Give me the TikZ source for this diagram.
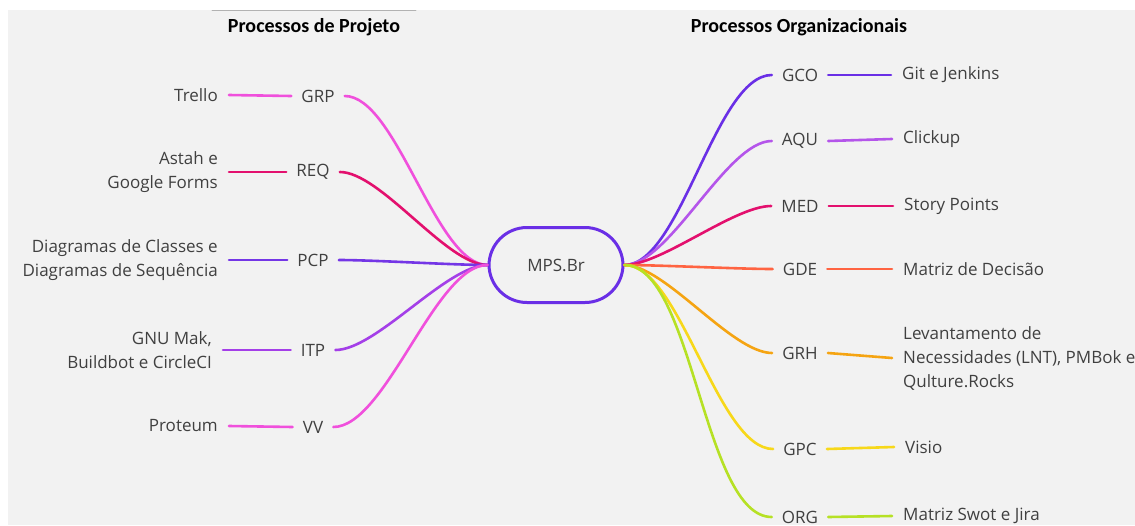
\documentclass[tikz,border=0pt]{standalone}
\usepackage{fontspec}
\setmainfont{Open Sans}
\newfontfamily\headfont{Carlito}
\usepackage{tikz}
\usetikzlibrary{positioning,calc}
\usepackage{xcolor}
\definecolor{bggray}{HTML}{F2F2F2}
\definecolor{txtgray}{HTML}{404040}
\definecolor{hubviolet}{HTML}{6A2FE6}
\definecolor{pinkline}{HTML}{F050DC}
\definecolor{crimson}{HTML}{E3106E}
\definecolor{blueviolet}{HTML}{7436E6}
\definecolor{violet}{HTML}{A43FE8}
\definecolor{lilac}{HTML}{B455EA}
\definecolor{tomato}{HTML}{FF6442}
\definecolor{amber}{HTML}{F5A412}
\definecolor{sun}{HTML}{F7D81A}
\definecolor{lime}{HTML}{B6E125}

\begin{document}
\begin{tikzpicture}[x=1pt, y=-1pt, line cap=round,
  every node/.style={text=txtgray, font=\fontsize{17}{24}\selectfont},
  hub/.style={draw=hubviolet, line width=3pt, fill=bggray, rounded corners=38pt, minimum width=134pt, minimum height=75pt},
  cat/.style={inner xsep=10pt},
  tool/.style={inner xsep=11pt},
  title/.style={font=\headfont\bfseries\fontsize{20}{22}\selectfont, text=black},
  branch/.style={line width=2.6pt, looseness=0.6}]
  % canvas
  \fill[white] (0,0) rectangle (1135,525);
  \fill[bggray] (8,10) rectangle (1135,525);
  \draw[gray!60, line width=0.8pt] (212,10) -- (416,10);
  \useasboundingbox (0,0) rectangle (1135,525);

  \node[title] (tproj) at (314,27) {Processos de Projeto};
  \node[title] (torg) at (799,27) {Processos Organizacionais};

  \node[hub] (mps) at (556,265) {MPS.Br};

  % Processos de Projeto
  \node[cat] (grp) at (318,96) {GRP};
  \node[cat] (req) at (313,172) {REQ};
  \node[cat] (pcp) at (313,260) {PCP};
  \node[cat] (itp) at (313,350) {ITP};
  \node[cat] (vv) at (313,427) {VV};
  \node[tool, anchor=east] (trello) at (229,95) {Trello};
  \node[tool, anchor=east, align=right] (astah) at (229,172) {Astah e\\Google Forms};
  \node[tool, anchor=east, align=right] (diag) at (229,260) {Diagramas de Classes e\\Diagramas de Sequência};
  \node[tool, anchor=east, align=right] (gnu) at (223,350) {GNU Mak,\\Buildbot e CircleCI};
  \node[tool, anchor=east] (proteum) at (229,426) {Proteum};

  \draw[branch, pinkline] (mps.west) to[out=180, in=0] (grp.east);
  \draw[branch, crimson] (mps.west) to[out=180, in=0] (req.east);
  \draw[branch, blueviolet] (mps.west) to[out=180, in=0] (pcp.east);
  \draw[branch, violet] (mps.west) to[out=180, in=0] (itp.east);
  \draw[branch, pinkline] (mps.west) to[out=180, in=0] (vv.east);
  \draw[branch, pinkline] (grp.west) -- (trello.east);
  \draw[branch, crimson] (req.west) -- (astah.east);
  \draw[branch, blueviolet] (pcp.west) -- (diag.east);
  \draw[branch, violet] (itp.west) -- (gnu.east);
  \draw[branch, pinkline] (vv.west) -- (proteum.east);

  % Processos Organizacionais
  \node[cat] (gco) at (800,75) {GCO};
  \node[cat] (aqu) at (800,141) {AQU};
  \node[cat] (med) at (800,206) {MED};
  \node[cat] (gde) at (800,269) {GDE};
  \node[cat] (grh) at (800,353) {GRH};
  \node[cat] (gpc) at (800,449) {GPC};
  \node[cat] (org) at (800,517) {ORG};
  \node[tool, anchor=west] (git) at (891,75) {Git e Jenkins};
  \node[tool, anchor=west] (clickup) at (892,139) {Clickup};
  \node[tool, anchor=west] (story) at (893,206) {Story Points};
  \node[tool, anchor=west] (matriz) at (892,269) {Matriz de Decisão};
  \node[tool, anchor=west, align=left] (lnt) at (892,358) {Levantamento de\\Necessidades (LNT), PMBok e\\Qulture.Rocks};
  \node[tool, anchor=west] (visio) at (894,447) {Visio};
  \node[tool, anchor=west] (swot) at (892,516) {Matriz Swot e Jira};

  \draw[branch, hubviolet] (mps.east) to[out=0, in=180] (gco.west);
  \draw[branch, lilac] (mps.east) to[out=0, in=180] (aqu.west);
  \draw[branch, crimson] (mps.east) to[out=0, in=180] (med.west);
  \draw[branch, tomato] (mps.east) to[out=0, in=180] (gde.west);
  \draw[branch, amber] (mps.east) to[out=0, in=180] (grh.west);
  \draw[branch, sun] (mps.east) to[out=0, in=180] (gpc.west);
  \draw[branch, lime] (mps.east) to[out=0, in=180] (org.west);
  \draw[branch, hubviolet] (gco.east) -- (git.west);
  \draw[branch, lilac] (aqu.east) -- (clickup.west);
  \draw[branch, crimson] (med.east) -- (story.west);
  \draw[branch, tomato] (gde.east) -- (matriz.west);
  \draw[branch, amber] (grh.east) -- (lnt.west);
  \draw[branch, sun] (gpc.east) -- (visio.west);
  \draw[branch, lime] (org.east) -- (swot.west);
\end{tikzpicture}
\end{document}
